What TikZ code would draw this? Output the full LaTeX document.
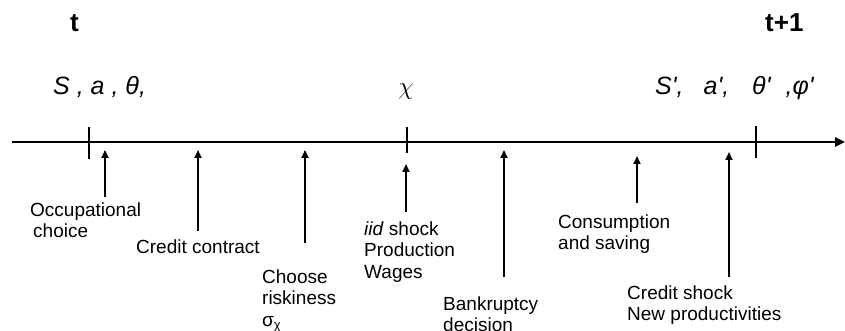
\documentclass[tikz,border=0pt]{standalone}
\usepackage{fontspec}
\setmainfont{Liberation Sans}
\usetikzlibrary{arrows.meta}
\tikzset{
  lbl/.style={font=\fontsize{19}{21.5}\selectfont, align=left, anchor=north west, inner sep=0pt},
  evt/.style={line width=1.8pt, -{Triangle[length=8pt,width=7pt]}},
  tickmark/.style={line width=2.2pt},
  axis/.style={line width=2.5pt, -{Triangle[length=10pt,width=9pt]}},
  vars/.style={font=\fontsize{25}{25}\selectfont\itshape, inner sep=0pt, anchor=base west},
  period/.style={font=\fontsize{26}{26}\selectfont\bfseries, inner sep=0pt, anchor=base west}
}
\begin{document}
\begin{tikzpicture}[x=1pt,y=-1pt]
\useasboundingbox (0,0) rectangle (845,331);
% periods
\node[period] (t0) at (70,32) {t};
\node[period] (t1) at (765,32) {t+1};
% state variables
\node[vars] (v0) at (53,95) {S , a , θ,};
\node[vars] (v1) at (655,95) {S\textquotesingle,\hspace{20pt}a\textquotesingle,\hspace{23pt}θ\textquotesingle\hspace{15pt},φ\textquotesingle};
\node[inner sep=0pt, anchor=base] (chi) at (406,95) {\fontsize{28}{28}\selectfont$\chi$};
% axis
\coordinate (axL) at (12,142);
\coordinate (axR) at (845,142);
\draw[axis] (axL) -- (axR);
% ticks
\draw[tickmark] (89,127) -- (89,159);
\draw[tickmark] (407,127) -- (407,153);
\draw[tickmark] (756,126) -- (756,158);
% event arrows
\coordinate (a1b) at (105,197); \coordinate (a1t) at (105,150);
\coordinate (a2b) at (198,231); \coordinate (a2t) at (198,150);
\coordinate (a3b) at (305,243); \coordinate (a3t) at (305,150);
\coordinate (a4b) at (406,212); \coordinate (a4t) at (406,164);
\coordinate (a5b) at (504,277); \coordinate (a5t) at (504,150);
\coordinate (a6b) at (637,203); \coordinate (a6t) at (637,156);
\coordinate (a7b) at (729,277); \coordinate (a7t) at (729,152);
\foreach \i in {1,...,7} \draw[evt] (a\i b) -- (a\i t);
% labels
\node[lbl] (occ) at (30,{216-15.05}) {\strut Occupational\\\hspace{3pt}choice};
\node[lbl] (cc) at (136,{253-15.05}) {\strut Credit contract};
\node[lbl] (cr) at (262,{283-15.05}) {\strut Choose\\riskiness\\σ\raisebox{-3pt}{\fontsize{13}{13}\selectfont χ}};
\node[lbl] (iid) at (364,{235-15.05}) {\strut\textit{iid} shock\\Production\\Wages};
\node[lbl] (bk) at (443,{310-15.05}) {\strut Bankruptcy\\decision};
\node[lbl] (cs) at (558,{228-15.05}) {\strut Consumption\\and saving};
\node[lbl] (ns) at (627,{299-15.05}) {\strut Credit shock\\New productivities};
\end{tikzpicture}
\end{document}
